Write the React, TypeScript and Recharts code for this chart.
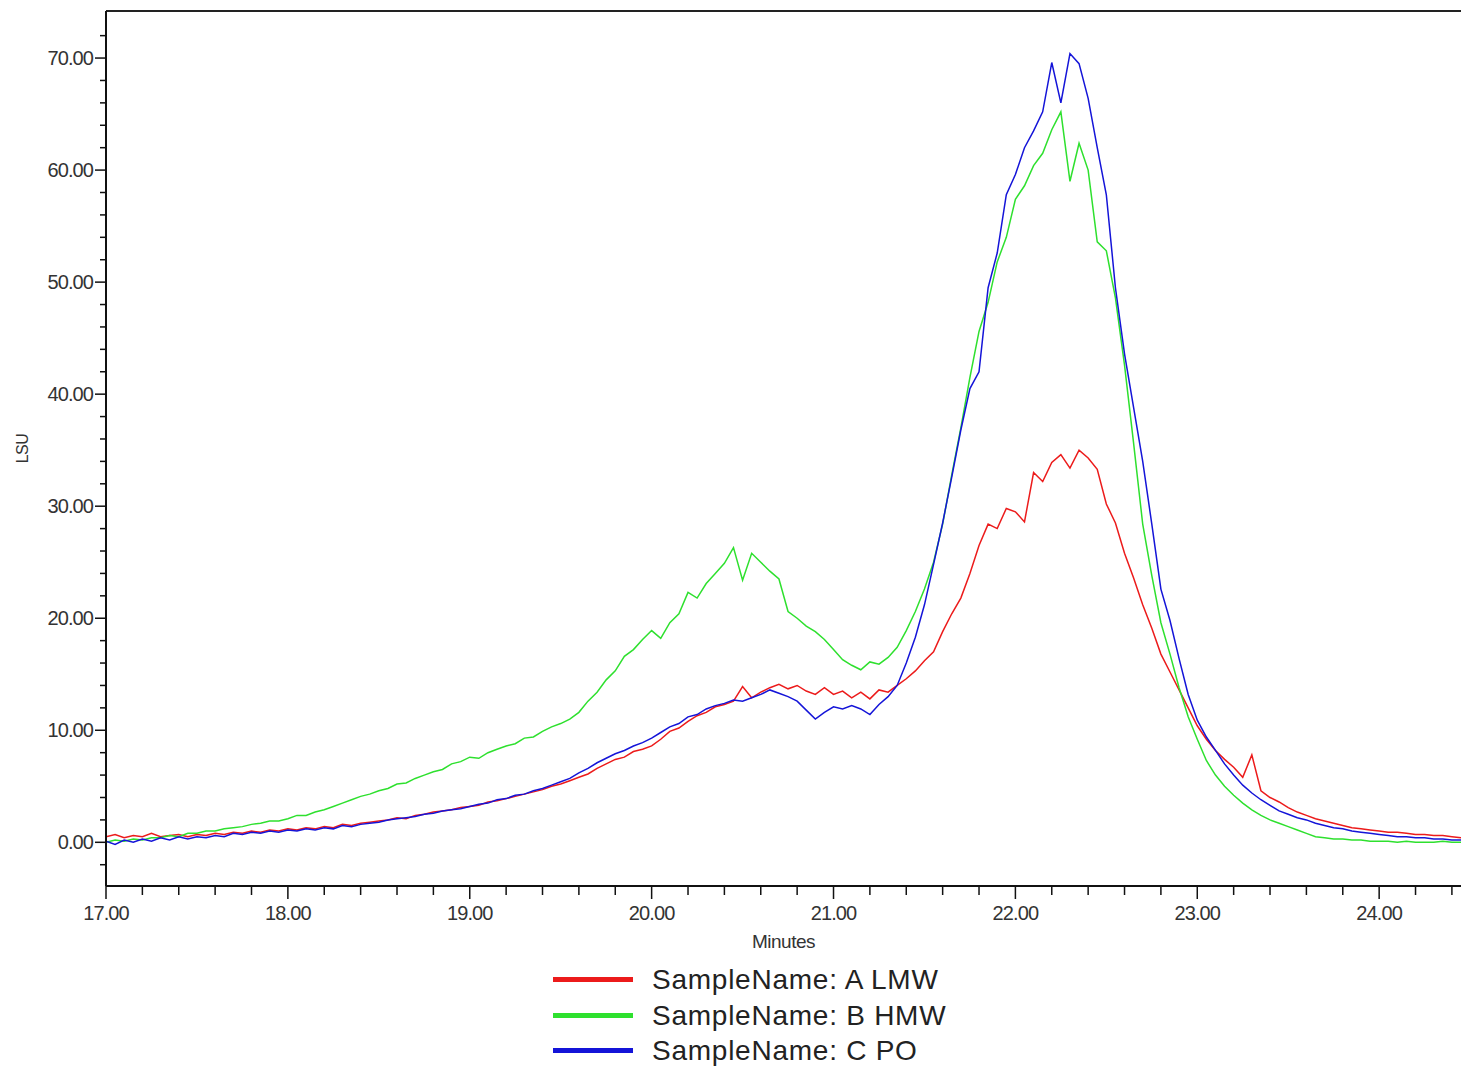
import { LineChart, Line, XAxis, YAxis, ReferenceLine, Legend } from 'recharts';

const minutes = [
  17.0, 17.05, 17.1, 17.15, 17.2, 17.25, 17.3, 17.35, 17.4, 17.45,
  17.5, 17.55, 17.6, 17.65, 17.7, 17.75, 17.8, 17.85, 17.9, 17.95,
  18.0, 18.05, 18.1, 18.15, 18.2, 18.25, 18.3, 18.35, 18.4, 18.45,
  18.5, 18.55, 18.6, 18.65, 18.7, 18.75, 18.8, 18.85, 18.9, 18.95,
  19.0, 19.05, 19.1, 19.15, 19.2, 19.25, 19.3, 19.35, 19.4, 19.45,
  19.5, 19.55, 19.6, 19.65, 19.7, 19.75, 19.8, 19.85, 19.9, 19.95,
  20.0, 20.05, 20.1, 20.15, 20.2, 20.25, 20.3, 20.35, 20.4, 20.45,
  20.5, 20.55, 20.6, 20.65, 20.7, 20.75, 20.8, 20.85, 20.9, 20.95,
  21.0, 21.05, 21.1, 21.15, 21.2, 21.25, 21.3, 21.35, 21.4, 21.45,
  21.5, 21.55, 21.6, 21.65, 21.7, 21.75, 21.8, 21.85, 21.9, 21.95,
  22.0, 22.05, 22.1, 22.15, 22.2, 22.25, 22.3, 22.35, 22.4, 22.45,
  22.5, 22.55, 22.6, 22.65, 22.7, 22.75, 22.8, 22.85, 22.9, 22.95,
  23.0, 23.05, 23.1, 23.15, 23.2, 23.25, 23.3, 23.35, 23.4, 23.45,
  23.5, 23.55, 23.6, 23.65, 23.7, 23.75, 23.8, 23.85, 23.9, 23.95,
  24.0, 24.05, 24.1, 24.15, 24.2, 24.25, 24.3, 24.35, 24.4, 24.45,
];

// A LMW
const sampleA = [
  0.5, 0.7, 0.4, 0.6, 0.5, 0.8, 0.5, 0.6, 0.7, 0.5,
  0.7, 0.6, 0.8, 0.7, 0.9, 0.8, 1.0, 0.9, 1.1, 1.0,
  1.2, 1.1, 1.3, 1.2, 1.4, 1.3, 1.6, 1.5, 1.7, 1.8,
  1.9, 2.0, 2.2, 2.1, 2.4, 2.5, 2.7, 2.8, 2.9, 3.1,
  3.2, 3.3, 3.6, 3.7, 3.9, 4.1, 4.3, 4.5, 4.7, 5.0,
  5.2, 5.5, 5.8, 6.1, 6.6, 7.0, 7.4, 7.6, 8.1, 8.3,
  8.6, 9.2, 9.9, 10.2, 10.8, 11.3, 11.6, 12.1, 12.3, 12.6,
  13.9, 12.9, 13.4, 13.8, 14.1, 13.7, 14.0, 13.5, 13.2, 13.8,
  13.2, 13.5, 12.9, 13.4, 12.8, 13.6, 13.4, 14.0, 14.6, 15.3,
  16.2, 17.0, 18.8, 20.4, 21.8, 24.0, 26.5, 28.4, 28.0, 29.8,
  29.5, 28.6, 33.0, 32.2, 33.9, 34.6, 33.4, 35.0, 34.3, 33.3,
  30.2, 28.5, 25.8, 23.6, 21.2, 19.1, 16.8, 15.2, 13.6, 12.0,
  10.4, 9.2, 8.2, 7.4, 6.7, 5.8, 7.8, 4.6, 4.0, 3.6,
  3.1, 2.7, 2.4, 2.1, 1.9, 1.7, 1.5, 1.3, 1.2, 1.1,
  1.0, 0.9, 0.9, 0.8, 0.7, 0.7, 0.6, 0.6, 0.5, 0.4,
];

// B HMW
const sampleB = [
  0.0, 0.2, 0.1, 0.3, 0.2, 0.4, 0.4, 0.6, 0.5, 0.8,
  0.8, 1.0, 1.0, 1.2, 1.3, 1.4, 1.6, 1.7, 1.9, 1.9,
  2.1, 2.4, 2.4, 2.7, 2.9, 3.2, 3.5, 3.8, 4.1, 4.3,
  4.6, 4.8, 5.2, 5.3, 5.7, 6.0, 6.3, 6.5, 7.0, 7.2,
  7.6, 7.5, 8.0, 8.3, 8.6, 8.8, 9.3, 9.4, 9.9, 10.3,
  10.6, 11.0, 11.6, 12.6, 13.4, 14.5, 15.3, 16.6, 17.2, 18.1,
  18.9, 18.2, 19.6, 20.4, 22.3, 21.8, 23.1, 24.0, 24.9, 26.3,
  23.4, 25.8, 25.0, 24.2, 23.5, 20.6, 20.0, 19.3, 18.8, 18.1,
  17.2, 16.3, 15.8, 15.4, 16.1, 15.9, 16.5, 17.4, 18.9, 20.6,
  22.6, 25.0, 28.4, 32.8, 37.0, 41.5, 45.6, 48.2, 51.8, 54.0,
  57.4, 58.6, 60.4, 61.5, 63.6, 65.2, 59.0, 62.4, 60.0, 53.6,
  52.8, 48.6, 42.6, 35.6, 28.4, 23.8, 19.6, 16.8, 13.8, 11.2,
  9.2, 7.3, 6.0, 5.0, 4.2, 3.5, 2.9, 2.4, 2.0, 1.7,
  1.4, 1.1, 0.8, 0.5, 0.4, 0.3, 0.3, 0.2, 0.2, 0.1,
  0.1, 0.1, 0.0, 0.1, 0.0, 0.0, 0.0, 0.1, 0.0, 0.0,
];

// C PO
const sampleC = [
  0.1, -0.2, 0.2, 0.0, 0.3, 0.1, 0.4, 0.2, 0.5, 0.3,
  0.5, 0.4, 0.6, 0.5, 0.8, 0.7, 0.9, 0.8, 1.0, 0.9,
  1.1, 1.0, 1.2, 1.1, 1.3, 1.2, 1.5, 1.4, 1.6, 1.7,
  1.8, 2.0, 2.1, 2.2, 2.3, 2.5, 2.6, 2.8, 2.9, 3.0,
  3.2, 3.4, 3.5, 3.8, 3.9, 4.2, 4.3, 4.6, 4.8, 5.1,
  5.4, 5.7, 6.2, 6.6, 7.1, 7.5, 7.9, 8.2, 8.6, 8.9,
  9.3, 9.8, 10.3, 10.6, 11.2, 11.4, 11.9, 12.2, 12.4, 12.7,
  12.6, 12.9, 13.2, 13.6, 13.3, 13.0, 12.6, 11.8, 11.0, 11.6,
  12.1, 11.9, 12.2, 11.9, 11.4, 12.3, 13.0, 14.0, 16.0, 18.3,
  21.2, 24.8, 28.5, 32.6, 36.8, 40.5, 42.0, 49.5, 52.6, 57.8,
  59.6, 62.0, 63.5, 65.2, 69.6, 66.0, 70.4, 69.5, 66.4, 62.0,
  57.8, 49.5, 43.6, 38.8, 34.0, 28.4, 22.6, 19.8, 16.4, 13.2,
  10.9, 9.4, 8.2, 7.0, 6.0, 5.1, 4.4, 3.8, 3.3, 2.8,
  2.5, 2.2, 2.0, 1.7, 1.5, 1.3, 1.2, 1.0, 0.9, 0.8,
  0.7, 0.6, 0.5, 0.5, 0.4, 0.4, 0.3, 0.3, 0.2, 0.2,
];

const seriesNames = ['SampleName: A LMW', 'SampleName: B HMW', 'SampleName: C PO'];
const seriesColors = ['#ec1b1b', '#2ee02e', '#1414d8'];

const xTicks = [
  17, 17.2, 17.4, 17.6, 17.8, 18, 18.2, 18.4, 18.6, 18.8,
  19, 19.2, 19.4, 19.6, 19.8, 20, 20.2, 20.4, 20.6, 20.8,
  21, 21.2, 21.4, 21.6, 21.8, 22, 22.2, 22.4, 22.6, 22.8,
  23, 23.2, 23.4, 23.6, 23.8, 24, 24.2, 24.4,
];
const yTicks = [
  -2, 0, 2, 4, 6, 8, 10, 12, 14, 16, 18, 20, 22, 24, 26, 28, 30, 32, 34, 36,
  38, 40, 42, 44, 46, 48, 50, 52, 54, 56, 58, 60, 62, 64, 66, 68, 70, 72,
];
const xDomain = [17, 24.45];
const yDomain = [-3.9, 74.2];

const data = minutes.map((t, i) => ({
  t,
  a: sampleA[i],
  b: sampleB[i],
  c: sampleC[i],
}));

const font = '"Liberation Sans", Arial, sans-serif';

const isMajor = (v: number, step: number) =>
  Math.abs(v / step - Math.round(v / step)) < 1e-6;

const YTick = ({ x, y, payload }: any) => {
  const major = isMajor(payload.value, 10);
  return (
    <g>
      <line x1={x - (major ? 11 : 6)} x2={x} y1={y} y2={y} stroke="#111" strokeWidth={1.5} />
      {major && (
        <text
          x={x - 13}
          y={y}
          dy={7}
          textAnchor="end"
          fontSize={20}
          letterSpacing={-0.9}
          fontFamily={font}
          fill="#333"
        >
          {payload.value.toFixed(2)}
        </text>
      )}
    </g>
  );
};

const XTick = ({ x, y, payload }: any) => {
  const major = isMajor(payload.value, 1);
  return (
    <g>
      <line x1={x} x2={x} y1={y} y2={y + (major ? 13 : 9)} stroke="#111" strokeWidth={1.5} />
      {major && (
        <text
          x={x}
          y={y + 34}
          textAnchor="middle"
          fontSize={20}
          letterSpacing={-0.9}
          fontFamily={font}
          fill="#333"
        >
          {payload.value.toFixed(2)}
        </text>
      )}
    </g>
  );
};

const LsuLabel = ({ viewBox }: any) => {
  const cx = viewBox.x + 22;
  const cy = viewBox.y + viewBox.height / 2;
  return (
    <text
      x={cx}
      y={cy}
      transform={`rotate(-90, ${cx}, ${cy})`}
      textAnchor="middle"
      dominantBaseline="central"
      fontSize={16}
      letterSpacing={-0.5}
      fontFamily={font}
      fill="#333"
    >
      LSU
    </text>
  );
};

const LegendBox = () => (
  <div style={{ fontFamily: font }}>
    {seriesNames.map((name, i) => (
      <div key={name} style={{ display: 'flex', alignItems: 'center', height: 35.5 }}>
        <div style={{ width: 80, height: 5, background: seriesColors[i], marginRight: 19 }} />
        <span style={{ fontSize: 28, letterSpacing: 0.75, color: '#222', lineHeight: '35px' }}>
          {name}
        </span>
      </div>
    ))}
  </div>
);

export default function App() {
  return (
    <div style={{ position: 'absolute', left: 0, top: 0, background: '#fff' }}>
      <LineChart
        width={1461}
        height={1073}
        data={data}
        margin={{ top: 11, right: 0, bottom: 0, left: 0 }}
      >
        <XAxis
          dataKey="t"
          type="number"
          domain={xDomain}
          ticks={xTicks}
          interval={0}
          allowDataOverflow
          height={187}
          tickSize={0}
          tickMargin={0}
          tickLine={false}
          tick={<XTick />}
          axisLine={{ stroke: '#111', strokeWidth: 2 }}
          label={{
            value: 'Minutes',
            position: 'insideTop',
            offset: 49,
            fontSize: 19,
            fontFamily: font,
            fill: '#333',
            letterSpacing: -0.5,
          }}
        />
        <YAxis
          type="number"
          domain={yDomain}
          ticks={yTicks}
          interval={0}
          allowDataOverflow
          width={106}
          tickSize={0}
          tickMargin={0}
          tickLine={false}
          tick={<YTick />}
          axisLine={{ stroke: '#111', strokeWidth: 2 }}
          label={<LsuLabel />}
        />
        <ReferenceLine y={yDomain[1]} stroke="#222" strokeWidth={2} />
        <Legend
          layout="vertical"
          align="center"
          verticalAlign="middle"
          content={<LegendBox />}
          wrapperStyle={{ position: 'absolute', top: 962, left: 553, width: 440, height: 110 }}
        />
        <Line
          dataKey="a"
          name={seriesNames[0]}
          stroke={seriesColors[0]}
          strokeWidth={1.5}
          dot={false}
          type="linear"
          isAnimationActive={false}
        />
        <Line
          dataKey="b"
          name={seriesNames[1]}
          stroke={seriesColors[1]}
          strokeWidth={1.5}
          dot={false}
          type="linear"
          isAnimationActive={false}
        />
        <Line
          dataKey="c"
          name={seriesNames[2]}
          stroke={seriesColors[2]}
          strokeWidth={1.5}
          dot={false}
          type="linear"
          isAnimationActive={false}
        />
      </LineChart>
    </div>
  );
}
